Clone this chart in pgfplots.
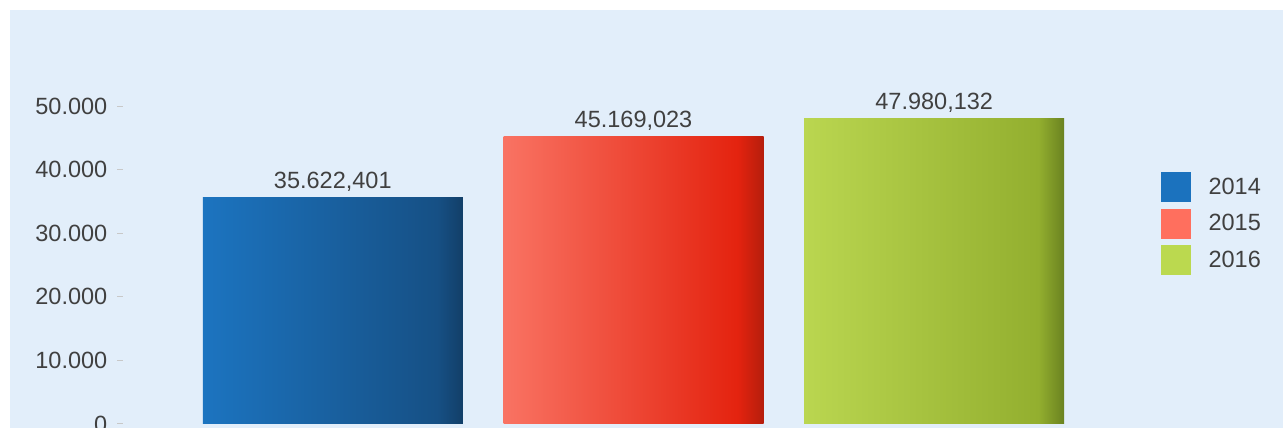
\documentclass[border=0pt]{standalone}
\usepackage{fontspec}
\setmainfont{Liberation Sans}
\usepackage{pgfplots}
\usepackage{pgfplotstable}
\pgfplotsset{compat=1.18}

\definecolor{bgblue}{HTML}{E2EEFA}
\definecolor{txt}{HTML}{404040}
\definecolor{tickgray}{HTML}{C8C8C8}
\definecolor{aL}{HTML}{1C74C0}\definecolor{aM}{HTML}{165085}\definecolor{aR}{HTML}{123F68}
\definecolor{bL}{HTML}{F97363}\definecolor{bM}{HTML}{E4230F}\definecolor{bR}{HTML}{B51E0C}
\definecolor{cL}{HTML}{BAD650}\definecolor{cM}{HTML}{93AF2F}\definecolor{cR}{HTML}{6A8220}
\definecolor{legA}{HTML}{1B72BE}\definecolor{legB}{HTML}{FF6F5E}\definecolor{legC}{HTML}{BBD94F}

\pgfdeclarehorizontalshading{barA}{100bp}{color(0bp)=(aL); color(25bp)=(aL); color(70bp)=(aM); color(75bp)=(aR); color(100bp)=(aR)}
\pgfdeclarehorizontalshading{barB}{100bp}{color(0bp)=(bL); color(25bp)=(bL); color(70bp)=(bM); color(75bp)=(bR); color(100bp)=(bR)}
\pgfdeclarehorizontalshading{barC}{100bp}{color(0bp)=(cL); color(25bp)=(cL); color(70bp)=(cM); color(75bp)=(cR); color(100bp)=(cR)}

\newcommand\fs{\fontsize{23.5pt}{28pt}\selectfont}

\pgfplotstableread{
x y label
0 35622.401 35.622,401
}\tA
\pgfplotstableread{
x y label
1 45169.023 45.169,023
}\tB
\pgfplotstableread{
x y label
2 47980.132 47.980,132
}\tC

\begin{document}
\begin{tikzpicture}
\fill[white] (0,0) rectangle (1283pt,428pt);
\fill[bgblue] (10pt,0) rectangle (1283pt,418pt);
\useasboundingbox (0,0) rectangle (1283pt,428pt);
\begin{axis}[
    at={(120pt,4pt)}, anchor=south west,
    scale only axis, width=1027pt, height=318pt,
    xmin=-0.7076, xmax=2.7076, ymin=0, ymax=50000,
    axis x line=none, axis y line*=left,
    y axis line style={draw=none},
    ytick={0,10000,20000,30000,40000,50000},
    scaled y ticks=false,
    /pgf/number format/1000 sep={.},
    /pgf/number format/assume math mode=true,
    tick align=center, major tick length=5pt,
    ytick style={color=tickgray, line width=1pt},
    yticklabel style={font=\fs, text=txt, anchor=east, inner sep=0pt, xshift=-10pt},
    clip=false,
    point meta=explicit symbolic,
    nodes near coords,
    every node near coord/.append style={font=\fs, text=txt, anchor=base, inner sep=0pt, yshift=9pt},
    legend style={at={(axis description cs:1.0136,0.7925)}, anchor=north west,
        draw=none, fill=none, inner sep=0pt, font=\fs, text=txt, row sep=7pt,
        /tikz/every odd column/.append style={column sep=16pt}},
    legend cell align=left,
  ]
  \addplot[ybar, bar width=260pt, bar shift=0pt, draw=none, shading=barA, forget plot]
    table[x=x, y=y, meta=label] {\tA};
  \addplot[ybar, bar width=260pt, bar shift=0pt, draw=none, shading=barB, forget plot]
    table[x=x, y=y, meta=label] {\tB};
  \addplot[ybar, bar width=260pt, bar shift=0pt, draw=none, shading=barC, forget plot]
    table[x=x, y=y, meta=label] {\tC};
  \addlegendimage{legend image code/.code={\fill[legA] (0pt,-14.5pt) rectangle (29pt,14.5pt);}}
  \addlegendimage{legend image code/.code={\fill[legB] (0pt,-14.5pt) rectangle (29pt,14.5pt);}}
  \addlegendimage{legend image code/.code={\fill[legC] (0pt,-14.5pt) rectangle (29pt,14.5pt);}}
  \legend{2014,2015,2016}
\end{axis}
\end{tikzpicture}
\end{document}
